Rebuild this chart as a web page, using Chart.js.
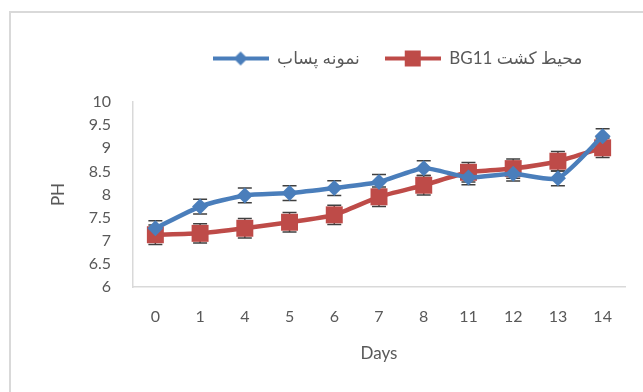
<!DOCTYPE html>
<html>
<head>
<meta charset="utf-8">
<script src="https://cdn.jsdelivr.net/npm/chart.js@4.4.1/dist/chart.umd.min.js"></script>
<style>
    body { margin: 0; background: #fff; }
    #wrap { position: relative; width: 643px; height: 392px; overflow: hidden; }
    #frame { position: absolute; left: 9px; top: 11px; width: 700px; height: 420px;
             border-left: 2px solid #d9d9d9; border-top: 2px solid #d9d9d9; }
    canvas { position: absolute; left: 0; top: 0; }
</style>
</head>
<body>
<div id="wrap">
    <div id="frame"></div>
    <canvas id="phChart" width="643" height="392"></canvas>
</div>
<script>
// Sampling days
const days = ['0', '1', '4', '5', '6', '7', '8', '11', '12', '13', '14'];

// نمونه پساب (wastewater sample)
const wastewaterPH = [7.27, 7.74, 7.98, 8.03, 8.14, 8.27, 8.57, 8.37, 8.45, 8.35, 9.26];
const wastewaterErr = [0.16, 0.16, 0.16, 0.16, 0.16, 0.16, 0.16, 0.16, 0.16, 0.16, 0.16];

// محیط کشت BG11 (BG11 medium)
const bg11PH = [7.13, 7.16, 7.27, 7.40, 7.56, 7.95, 8.20, 8.48, 8.56, 8.72, 9.01];
const bg11Err = [0.21, 0.21, 0.21, 0.21, 0.21, 0.21, 0.21, 0.21, 0.21, 0.21, 0.21];

const seriesNames = ['نمونه پساب', 'محیط کشت BG11'];

const blue = '#4a7ebb';
const red = '#be4b48';
const textGray = '#595959';
const FONT = "Lato, 'DejaVu Sans', sans-serif";

// legend symbol: short line with the marker in the middle
function legendSymbol(color, style) {
    const c = document.createElement('canvas');
    c.width = 56;
    c.height = 18;
    const g = c.getContext('2d');
    g.strokeStyle = color;
    g.lineWidth = 4;
    g.beginPath();
    g.moveTo(0, 9);
    g.lineTo(56, 9);
    g.stroke();
    g.fillStyle = color;
    if (style === 'diamond') {
        g.beginPath();
        g.moveTo(28, 2); g.lineTo(35, 9); g.lineTo(28, 16); g.lineTo(21, 9);
        g.closePath();
        g.fill();
    } else {
        g.fillRect(20, 1, 16, 16);
    }
    return c;
}

// error bars drawn behind the markers
const errorBars = {
    id: 'errorBars',
    beforeDatasetsDraw(chart) {
        const ctx = chart.ctx;
        const x = chart.scales.x;
        const y = chart.scales.y;
        const sets = [[wastewaterPH, wastewaterErr], [bg11PH, bg11Err]];
        ctx.save();
        ctx.strokeStyle = '#404040';
        ctx.lineWidth = 1.5;
        sets.forEach(([vals, errs]) => {
            vals.forEach((v, i) => {
                const px = x.getPixelForValue(i);
                const top = y.getPixelForValue(v + errs[i]);
                const bot = y.getPixelForValue(v - errs[i]);
                ctx.beginPath();
                ctx.moveTo(px, top); ctx.lineTo(px, bot);
                ctx.moveTo(px - 7, top); ctx.lineTo(px + 7, top);
                ctx.moveTo(px - 7, bot); ctx.lineTo(px + 7, bot);
                ctx.stroke();
            });
        });
        ctx.restore();
    }
};

// legend sits a bit right of centre and leaves a gap above the plot
const legendTweak = {
    id: 'legendTweak',
    afterInit(chart) {
        const lg = chart.legend;
        const fit = lg.fit;
        lg.fit = function () {
            fit.call(this);
            this.height += 28;
        };
        const draw = lg.draw;
        lg.draw = function () {
            this.ctx.save();
            this.ctx.translate(65, 3);
            draw.call(this);
            this.ctx.restore();
        };
    }
};

new Chart(document.getElementById('phChart'), {
    type: 'line',
    data: {
        labels: days,
        datasets: [
            {
                label: seriesNames[0],
                data: wastewaterPH,
                borderColor: blue,
                backgroundColor: blue,
                borderWidth: 4.5,
                pointStyle: 'rectRot',
                pointRadius: 8,
                pointBorderWidth: 0,
                tension: 0.2
            },
            {
                label: seriesNames[1],
                data: bg11PH,
                borderColor: red,
                backgroundColor: red,
                borderWidth: 4.5,
                pointStyle: 'rect',
                pointRadius: 12,
                pointBorderWidth: 0,
                tension: 0.2
            }
        ]
    },
    options: {
        responsive: false,
        animation: false,
        layout: { padding: { left: 40, right: 18, top: 22, bottom: 0 } },
        plugins: {
            tooltip: { enabled: false },
            legend: {
                position: 'top',
                textDirection: 'rtl',
                labels: {
                    color: textGray,
                    font: { family: FONT, size: 17 },
                    padding: 25,
                    usePointStyle: true,
                    pointStyleWidth: 56,
                    generateLabels(chart) {
                        return chart.data.datasets.map((ds, i) => ({
                            text: ds.label,
                            fontColor: textGray,
                            pointStyle: legendSymbol(ds.borderColor, i === 0 ? 'diamond' : 'square'),
                            lineWidth: 0,
                            strokeStyle: 'transparent',
                            fillStyle: 'transparent',
                            hidden: false,
                            datasetIndex: i
                        }));
                    }
                }
            }
        },
        scales: {
            x: {
                offset: true,
                grid: { display: false, drawTicks: false },
                border: { display: true, color: '#d9d9d9', width: 1.5 },
                ticks: { color: textGray, font: { family: FONT, size: 16 }, padding: 20 },
                title: {
                    display: true, text: 'Days', color: textGray,
                    font: { family: FONT, size: 17 }, padding: { top: 4, bottom: 28 }
                },
                afterFit(scale) { scale.height = 105; }
            },
            y: {
                min: 6,
                max: 10,
                grid: { display: false, drawTicks: false },
                border: { display: true, color: '#d9d9d9', width: 1.5 },
                ticks: {
                    stepSize: 0.5, color: textGray, font: { family: FONT, size: 16 }, padding: 22,
                    callback: (v) => String(v)
                },
                title: {
                    display: true, text: 'PH', color: textGray,
                    font: { family: FONT, size: 17 }, padding: { top: 8, bottom: 0 }
                },
                afterFit(scale) { scale.width = 93; }
            }
        }
    },
    plugins: [errorBars, legendTweak]
});
</script>
</body>
</html>
